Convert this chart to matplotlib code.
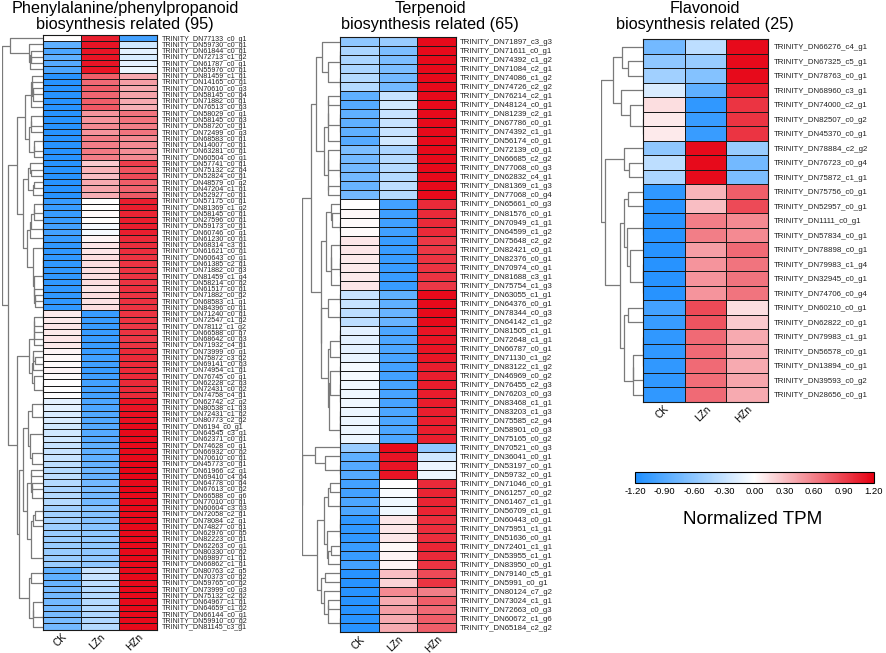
import numpy as np
import matplotlib
matplotlib.use("Agg")
import matplotlib.pyplot as plt
from matplotlib.colors import LinearSegmentedColormap, Normalize
from matplotlib.cm import ScalarMappable

plt.rcParams['font.family'] = ['Liberation Sans', 'DejaVu Sans']

samples = ["CK", "LZn", "HZn"]

# ---------------- Panel 1: Phenylalanine/phenylpropanoid ----------------
phe_genes = [
    "DN77133_c0_g1", "DN59730_c0_g1", "DN61844_c0_g1", "DN72713_c1_g2", "DN61787_c0_g1",
    "DN55976_c0_g1", "DN81459_c1_g1", "DN14165_c0_g1", "DN70610_c0_g3", "DN58145_c0_g4",
    "DN71882_c0_g1", "DN76513_c0_g3", "DN58029_c0_g1", "DN58145_c0_g3", "DN58720_c0_g1",
    "DN72499_c0_g3", "DN68583_c0_g1", "DN14007_c0_g1", "DN63281_c0_g1", "DN60504_c0_g1",
    "DN57741_c0_g1", "DN75132_c2_g4", "DN52824_c0_g1", "DN48579_c0_g2", "DN47204_c1_g1",
    "DN52927_c0_g1", "DN57175_c0_g1", "DN81369_c1_g2", "DN58145_c0_g1", "DN27596_c0_g1",
    "DN59173_c0_g1", "DN60746_c0_g1", "DN61230_c0_g1", "DN68314_c3_g1", "DN61621_c0_g1",
    "DN60643_c0_g1", "DN61385_c2_g1", "DN71882_c0_g3", "DN81459_c1_g4", "DN58214_c0_g2",
    "DN61517_c0_g1", "DN71882_c0_g2", "DN68583_c1_g1", "DN84396_c0_g1", "DN71240_c0_g1",
    "DN72547_c1_g2", "DN78112_c1_g2", "DN66588_c0_g7", "DN68642_c0_g3", "DN71932_c4_g1",
    "DN73999_c0_g1", "DN75872_c3_g2", "DN69141_c0_g3", "DN74954_c1_g1", "DN76745_c0_g1",
    "DN62228_c2_g3", "DN72431_c0_g2", "DN74758_c4_g1", "DN62742_c2_g2", "DN80538_c1_g3",
    "DN72431_c1_g2", "DN80773_c2_g2", "DN6194_c0_g1", "DN64545_c3_g1", "DN62371_c0_g1",
    "DN74628_c0_g1", "DN66932_c0_g2", "DN70610_c0_g1", "DN45773_c0_g1", "DN61966_c2_g1",
    "DN69410_c4_g4", "DN64778_c0_g4", "DN67613_c0_g2", "DN66588_c0_g6", "DN77010_c0_g1",
    "DN60604_c3_g3", "DN72058_c2_g1", "DN78084_c2_g1", "DN74827_c0_g1", "DN62976_c0_g5",
    "DN82223_c0_g1", "DN62263_c0_g1", "DN80330_c0_g2", "DN69897_c1_g1", "DN66862_c1_g1",
    "DN80763_c2_g5", "DN70373_c0_g2", "DN59765_c0_g2", "DN73999_c0_g3", "DN75132_c2_g2",
    "DN64967_c1_g1", "DN64659_c1_g2", "DN66144_c0_g1", "DN59910_c0_g2", "DN81145_c3_g1",
]
phe_ck = [
    0.00, -0.85, -0.95, -0.85, -0.90, -0.95,
    -1.15, -1.15, -1.15, -1.15, -1.15, -1.15,
    -1.15, -1.15, -1.15, -1.15, -1.15, -1.15, -1.15, -1.15,
    -1.15, -1.15, -1.15, -1.15, -1.15, -1.15,
    -1.05, -1.05, -1.05, -1.05, -1.00, -1.00, -1.05, -1.10, -1.10, -1.10, -1.10, -1.10,
    -1.10, -1.10, -1.10, -1.10, -1.10, -1.10,
    0.10, 0.10, 0.12, 0.10, 0.12, 0.10, 0.05, 0.03, 0.02, 0.05, 0.02, 0.00, 0.00, 0.00,
    -0.15, -0.15, -0.20, -0.20, -0.25, -0.25, -0.25, -0.30, -0.30, -0.30, -0.35, -0.40, -0.35,
    -0.40, -0.45, -0.40, -0.40, -0.50, -0.50, -0.50, -0.52, -0.55, -0.55, -0.55, -0.55, -0.55, -0.55,
    -0.85, -0.85, -0.80, -0.75, -0.75, -0.75, -0.75, -0.72, -0.72, -0.75,
]
phe_lzn = [
    1.05, 1.10, 1.10, 1.10, 1.10, 1.10,
    0.75, 0.70, 0.75, 0.72, 0.75, 0.78,
    0.50, 0.50, 0.55, 0.50, 0.60, 0.60, 0.62, 0.60,
    0.25, 0.35, 0.30, 0.40, 0.42, 0.38,
    0.00, 0.00, 0.02, 0.00, -0.05, -0.05, 0.05, 0.12, 0.12, 0.15, 0.15, 0.15,
    0.15, 0.15, 0.13, 0.15, 0.14, 0.15,
    -1.05, -1.05, -1.05, -1.05, -1.05, -1.05, -1.05, -1.02, -1.02, -1.05, -1.02, -1.00, -1.00, -1.00,
    -0.95, -0.95, -0.92, -0.92, -0.90, -0.90, -0.90, -0.85, -0.85, -0.85, -0.82, -0.78, -0.82,
    -0.75, -0.72, -0.75, -0.75, -0.65, -0.65, -0.66, -0.63, -0.60, -0.60, -0.60, -0.60, -0.60, -0.60,
    -0.30, -0.30, -0.35, -0.40, -0.40, -0.40, -0.40, -0.43, -0.43, -0.40,
]
phe_hzn = [
    -1.00, -0.25, -0.15, -0.20, -0.15, -0.10,
    0.40, 0.45, 0.40, 0.43, 0.40, 0.37,
    0.65, 0.65, 0.60, 0.65, 0.55, 0.55, 0.53, 0.55,
    0.90, 0.80, 0.85, 0.75, 0.73, 0.77,
    1.05, 1.05, 1.03, 1.05, 1.05, 1.05, 1.00, 0.98, 0.98, 0.95, 0.95, 0.95,
    0.95, 0.95, 0.97, 0.95, 0.96, 0.95,
    0.95, 0.95, 0.93, 0.95, 0.93, 0.95, 1.00, 1.00, 1.00, 1.00, 1.00, 1.00, 1.00, 1.00,
    1.10, 1.10, 1.12, 1.12, 1.15, 1.15, 1.15, 1.15, 1.15, 1.15, 1.17, 1.18, 1.17,
    1.15, 1.17, 1.15, 1.15, 1.15, 1.15, 1.16, 1.15, 1.15, 1.15, 1.15, 1.15, 1.15, 1.15,
    1.15, 1.15, 1.15, 1.15, 1.15, 1.15, 1.15, 1.15, 1.15, 1.15,
]

# ---------------- Panel 2: Terpenoid ----------------
ter_genes = [
    "DN71897_c3_g3", "DN71611_c0_g1", "DN74392_c1_g2", "DN71084_c2_g1", "DN74086_c1_g2",
    "DN74726_c2_g2", "DN76214_c2_g1", "DN48124_c0_g1", "DN81239_c2_g1", "DN67786_c0_g1",
    "DN74392_c1_g1", "DN56174_c0_g1", "DN72139_c0_g1", "DN66685_c2_g2", "DN77068_c0_g3",
    "DN62832_c4_g1", "DN81369_c1_g3", "DN77068_c0_g4", "DN65661_c0_g3", "DN81576_c0_g1",
    "DN70949_c1_g1", "DN64599_c1_g2", "DN75648_c2_g2", "DN82421_c0_g1", "DN82376_c0_g1",
    "DN70974_c0_g1", "DN81688_c3_g1", "DN75754_c1_g3", "DN63055_c1_g1", "DN64376_c0_g1",
    "DN78344_c0_g3", "DN64142_c1_g2", "DN81505_c1_g1", "DN72648_c1_g1", "DN66787_c0_g1",
    "DN71130_c1_g2", "DN83122_c1_g2", "DN46969_c0_g2", "DN76455_c2_g3", "DN76203_c0_g3",
    "DN83468_c1_g1", "DN83203_c1_g3", "DN75585_c2_g4", "DN58901_c0_g3", "DN75165_c0_g2",
    "DN70521_c0_g3", "DN36041_c0_g1", "DN53197_c0_g1", "DN59732_c0_g1", "DN71046_c0_g1",
    "DN61257_c0_g2", "DN61467_c1_g1", "DN56709_c1_g1", "DN60443_c0_g1", "DN75951_c1_g1",
    "DN51636_c0_g1", "DN72401_c1_g1", "DN53955_c1_g1", "DN83950_c0_g1", "DN79140_c5_g1",
    "DN5991_c0_g1", "DN80124_c7_g2", "DN73024_c1_g1", "DN72663_c0_g3", "DN60672_c1_g6",
    "DN65184_c2_g2",
]
ter_ck = [
    -0.60, -0.45, -0.45, -0.45, -0.40, -0.40,
    -0.85, -0.90, -0.85, -0.85, -0.85, -0.90, -0.70, -0.75, -0.75, -0.75, -0.80, -0.75,
    0.00, 0.03, 0.02, 0.02, 0.12, 0.12, 0.10, 0.10, 0.10, 0.12,
    -0.30, -0.30, -0.35, -0.35,
    -0.15, -0.15, -0.15, -0.12, -0.05, -0.05, -0.08, -0.08, -0.08, -0.10, -0.10, -0.10, -0.10,
    -0.55, -0.85, -0.90, -0.90,
    -1.00, -1.00, -0.95, -0.95,
    -1.10, -1.10, -1.10, -1.05, -1.05, -1.00,
    -1.15, -1.15, -1.15, -1.15, -1.15, -1.15, -1.15,
]
ter_lzn = [
    -0.55, -0.70, -0.70, -0.70, -0.75, -0.75,
    -0.30, -0.25, -0.30, -0.30, -0.30, -0.25, -0.45, -0.40, -0.40, -0.40, -0.35, -0.40,
    -1.00, -1.03, -1.02, -1.02, -1.05, -1.05, -1.05, -1.05, -1.05, -1.05,
    -0.85, -0.85, -0.80, -0.80,
    -0.95, -0.95, -0.95, -0.97, -1.00, -1.00, -0.98, -0.98, -0.98, -0.95, -0.95, -0.95, -0.95,
    1.15, 1.10, 1.10, 1.10,
    0.00, -0.03, -0.08, -0.08,
    0.12, 0.12, 0.12, 0.03, 0.05, 0.05,
    0.30, 0.20, 0.55, 0.40, 0.45, 0.40, 0.40,
]
ter_hzn = [
    1.15, 1.15, 1.15, 1.15, 1.15, 1.15,
    1.15, 1.15, 1.15, 1.15, 1.15, 1.15, 1.15, 1.15, 1.15, 1.15, 1.15, 1.15,
    1.00, 1.00, 1.00, 1.00, 0.93, 0.93, 0.95, 0.95, 0.95, 0.93,
    1.15, 1.15, 1.15, 1.15,
    1.10, 1.10, 1.10, 1.09, 1.05, 1.05, 1.06, 1.06, 1.06, 1.05, 1.05, 1.05, 1.05,
    -0.60, -0.25, -0.10, -0.10,
    1.00, 1.03, 1.03, 1.03,
    0.98, 0.98, 0.98, 1.02, 1.00, 0.95,
    0.85, 0.95, 0.60, 0.75, 0.70, 0.75, 0.75,
]

# ---------------- Panel 3: Flavonoid ----------------
fla_genes = [
    "DN66276_c4_g1", "DN67325_c5_g1", "DN78763_c0_g1", "DN68960_c3_g1", "DN74000_c2_g1",
    "DN82507_c0_g2", "DN45370_c0_g1", "DN78884_c2_g2", "DN76723_c0_g4", "DN75872_c1_g1",
    "DN75756_c0_g1", "DN52957_c0_g1", "DN1111_c0_g1", "DN57834_c0_g1", "DN78898_c0_g1",
    "DN79983_c1_g4", "DN32945_c0_g1", "DN74706_c0_g4", "DN60210_c0_g1", "DN62822_c0_g1",
    "DN79983_c1_g1", "DN56578_c0_g1", "DN13894_c0_g1", "DN39593_c0_g2", "DN28656_c0_g1",
]
fla_ck = [-0.75, -0.60, -0.50, -0.20, 0.15, 0.10, 0.10, -0.60, -0.35, -0.45,
          -1.10, -1.15, -1.15, -1.15, -1.15, -1.15, -1.15, -1.15, -1.00, -1.05,
          -1.10, -1.10, -1.10, -1.10, -1.10]
fla_lzn = [-0.35, -0.55, -0.65, -0.85, -1.10, -1.05, -1.05, 1.15, 1.15, 1.15,
           0.35, 0.30, 0.60, 0.60, 0.45, 0.50, 0.50, 0.50, 0.85, 0.80,
           0.70, 0.70, 0.70, 0.68, 0.70]
fla_hzn = [1.15, 1.15, 1.15, 1.05, 0.95, 0.95, 0.95, -0.55, -0.75, -0.70,
           0.75, 0.85, 0.55, 0.55, 0.70, 0.65, 0.65, 0.65, 0.15, 0.25,
           0.40, 0.40, 0.40, 0.42, 0.40]

panel_titles = ["Phenylalanine/phenylpropanoid\nbiosynthesis related (95)",
                "Terpenoid\nbiosynthesis related (65)",
                "Flavonoid\nbiosynthesis related (25)"]
cbar_ticks = [-1.2, -0.9, -0.6, -0.3, 0.0, 0.3, 0.6, 0.9, 1.2]
cbar_label = "Normalized TPM"

# ---------------- figure ----------------
W, H = 886, 653
fig = plt.figure(figsize=(W / 100, H / 100), dpi=100)
cmap = LinearSegmentedColormap.from_list("bwr_tpm", ["#1e8fff", "#ffffff", "#e60012"])
norm = Normalize(vmin=-1.2, vmax=1.2)


def px_axes(x0, y0, x1, y1):
    return fig.add_axes([x0 / W, 1 - y1 / H, (x1 - x0) / W, (y1 - y0) / H])


def constrained_linkage(X):
    clusters = [{"m": [i], "pos": i + 0.5, "h": 0.0} for i in range(len(X))]
    links = []
    while len(clusters) > 1:
        best = None
        for k in range(len(clusters) - 1):
            a, b = clusters[k], clusters[k + 1]
            d = np.mean([np.linalg.norm(X[i] - X[j]) for i in a["m"] for j in b["m"]])
            if best is None or d < best[0] - 1e-12:
                best = (d, k)
        d, k = best
        a, b = clusters[k], clusters[k + 1]
        h = max(d, a["h"], b["h"])
        links.append((a["pos"], b["pos"], a["h"], b["h"], h))
        clusters[k:k + 2] = [{"m": a["m"] + b["m"], "pos": (a["pos"] + b["pos"]) / 2, "h": h}]
    return links


def draw_panel(genes, ck, lzn, hzn, hm_box, dendro_x0, label_pad, label_size, title, title_x):
    X = np.column_stack([ck, lzn, hzn])
    n = len(genes)
    x0, y0, x1, y1 = hm_box
    ax = px_axes(x0, y0, x1, y1)
    ax.pcolormesh(np.arange(4), np.arange(n + 1), X, cmap=cmap, norm=norm,
                  edgecolors="#1a1a1a", linewidth=0.5)
    ax.set_xlim(0, 3)
    ax.set_ylim(n, 0)
    ax.yaxis.tick_right()
    ax.set_yticks(np.arange(n) + 0.5)
    ax.set_yticklabels(["TRINITY_" + g for g in genes], fontsize=label_size, color="#222222")
    ax.tick_params(axis="y", length=0, pad=label_pad)
    ax.set_xticks(np.arange(3) + 0.5)
    ax.set_xticklabels(samples, rotation=45, ha="right", rotation_mode="anchor", fontsize=7.2)
    ax.tick_params(axis="x", length=0, pad=1.5)
    for s in ax.spines.values():
        s.set_linewidth(0.8)
        s.set_color("#1a1a1a")

    # dendrogram
    links = constrained_linkage(X)
    hmax = max(l[4] for l in links)
    base = 0.12

    def tr(h):
        return 0.0 if h <= 0 else base + np.sqrt(h / hmax) * (1 - base)

    dax = px_axes(dendro_x0, y0, x0, y1)
    for pa, pb, ha_, hb_, h in links:
        xs = [tr(ha_), tr(h), tr(h), tr(hb_)]
        ys = [pa, pa, pb, pb]
        dax.plot(xs, ys, color="#7a7a7a", lw=0.9, solid_capstyle="butt")
    dax.set_xlim(1.0, 0.0)
    dax.set_ylim(n, 0)
    dax.axis("off")

    fig.text(title_x / W, 1 - 16.5 / H, title, ha="center", va="center",
             fontsize=11.7, linespacing=1.05)


draw_panel(phe_genes, phe_ck, phe_lzn, phe_hzn, (42.7, 35.0, 156.7, 629.7), 2.0,
           3.6, 5.1, panel_titles[0], 125)
draw_panel(ter_genes, ter_ck, ter_lzn, ter_hzn, (340.0, 37.3, 455.7, 632.0), 302.0,
           3.1, 5.6, panel_titles[1], 430)
draw_panel(fla_genes, fla_ck, fla_lzn, fla_hzn, (642.7, 39.3, 768.3, 401.8), 600.5,
           4.0, 5.7, panel_titles[2], 705)

# colorbar
cax = px_axes(635, 471.7, 874, 483.3)
cb = fig.colorbar(ScalarMappable(norm=norm, cmap=cmap), cax=cax, orientation="horizontal",
                  ticks=cbar_ticks)
cb.ax.set_xticklabels(["%.2f" % t for t in cbar_ticks])
cb.ax.tick_params(length=0, labelsize=6.8, pad=3)
cb.outline.set_linewidth(0.8)
fig.text(753 / W, 1 - 520 / H, cbar_label, ha="center", va="center", fontsize=13.6)

fig.savefig("out.png", dpi=100)
